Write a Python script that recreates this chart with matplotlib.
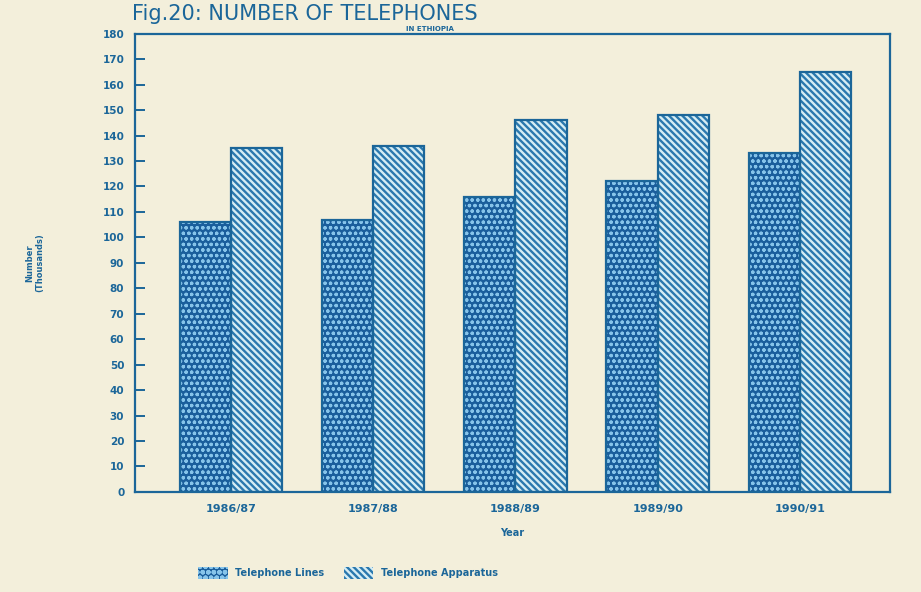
import matplotlib
matplotlib.use("Agg")
import matplotlib.pyplot as plt
import numpy as np
from matplotlib.patches import Patch

# Data (thousands)
years = ["1986/87", "1987/88", "1988/89", "1989/90", "1990/91"]
telephone_lines = [106, 107, 116, 122, 133]
telephone_apparatus = [135, 136, 146, 148, 165]
y_ticks = list(range(0, 181, 10))

PAPER = "#f3efdb"
INK = "#1b6699"
LINES_FACE = "#1a5e9c"
LINES_HATCH = "#86c4ea"
APP_FACE = "#d6edf4"
APP_HATCH = "#2a78ae"
LINES_PAT = "ooo"
APP_PAT = "\\\\\\\\\\"

fig = plt.figure(figsize=(9.21, 5.92), dpi=100, facecolor=PAPER)
ax = fig.add_axes([0.147, 0.169, 0.819, 0.774])
ax.set_facecolor(PAPER)

x = np.arange(len(years))
width = 0.36

# hatched fills, then plain outlines on top
plt.rcParams["hatch.linewidth"] = 0.9
ax.bar(x - width / 2, telephone_lines, width, color=LINES_FACE,
       edgecolor=LINES_HATCH, hatch=LINES_PAT, linewidth=0)
lines_handle = Patch(facecolor=LINES_FACE, edgecolor=LINES_HATCH, hatch=LINES_PAT,
                     linewidth=0, label="Telephone Lines")
plt.rcParams["hatch.linewidth"] = 1.7
ax.bar(x + width / 2, telephone_apparatus, width, color=APP_FACE,
       edgecolor=APP_HATCH, hatch=APP_PAT, linewidth=0)
app_handle = Patch(facecolor=APP_FACE, edgecolor=APP_HATCH, hatch=APP_PAT,
                   linewidth=0, label="Telephone Apparatus")

ax.bar(x - width / 2, telephone_lines, width, fill=False,
       edgecolor=INK, linewidth=1.6)
ax.bar(x + width / 2, telephone_apparatus, width, fill=False,
       edgecolor=INK, linewidth=1.6)

ax.set_xlim(-0.67, len(years) - 1 + 0.63)
ax.set_ylim(0, 180)

for side in ["left", "right", "top", "bottom"]:
    ax.spines[side].set_color(INK)
    ax.spines[side].set_linewidth(1.6)

ax.set_yticks(y_ticks)
ax.set_yticklabels([str(v) for v in y_ticks])
ax.tick_params(axis="y", direction="in", length=7, width=1.4, color=INK,
               labelcolor=INK, labelsize=7.5, pad=8)
ax.set_xticks(x)
ax.set_xticklabels(years)
ax.tick_params(axis="x", length=0, labelcolor=INK, labelsize=8, pad=9)
for lab in ax.get_xticklabels() + ax.get_yticklabels():
    lab.set_fontweight("bold")

ax.set_xlabel("Year", color=INK, fontsize=7, fontweight="bold", labelpad=10)
ax.set_ylabel("Number\n(Thousands)", color=INK, fontsize=6, fontweight="bold",
              labelpad=42, linespacing=1.1)

fig.text(0.143, 0.977, "Fig.20: NUMBER OF TELEPHONES", color=INK, fontsize=15,
         ha="left", va="center")
fig.text(0.467, 0.951, "IN ETHIOPIA", color=INK, fontsize=5, fontweight="bold",
         ha="center", va="center")

leg = fig.legend(handles=[lines_handle, app_handle], loc="lower center",
                 bbox_to_anchor=(0.378, 0.008), ncol=2, frameon=False, fontsize=7,
                 handlelength=3.0, handleheight=1.5, columnspacing=2.0,
                 handletextpad=0.8)
for t in leg.get_texts():
    t.set_color(INK)
    t.set_fontweight("bold")

fig.savefig("out.png", dpi=100, facecolor=PAPER)
